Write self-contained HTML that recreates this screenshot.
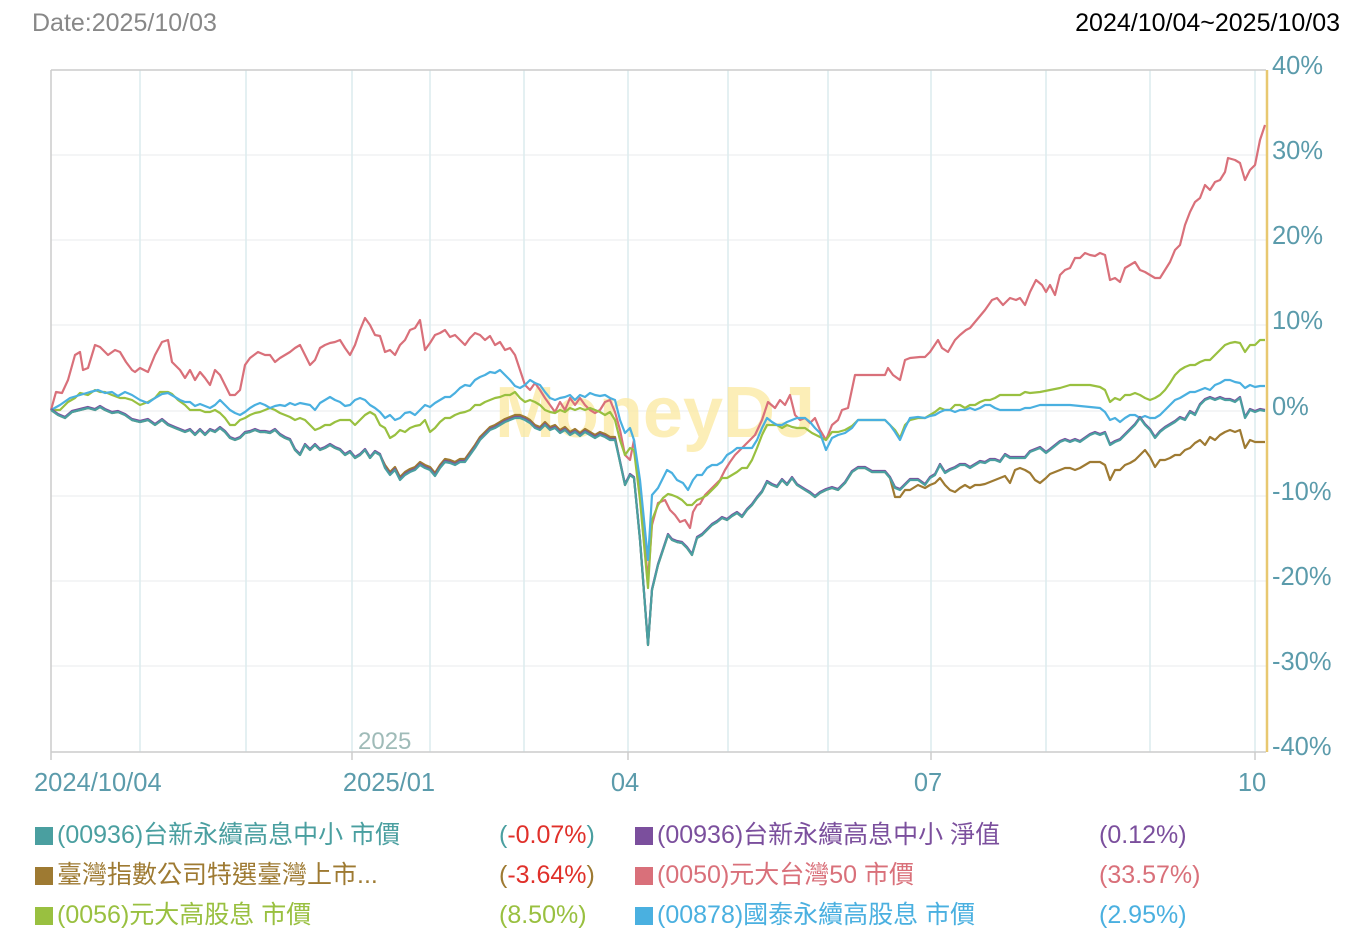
<!DOCTYPE html><html><head><meta charset="utf-8"><style>
body{margin:0;background:#fff;width:1362px;height:948px;overflow:hidden;font-family:"Liberation Sans","Noto Sans CJK TC",sans-serif}
.t{position:absolute;white-space:nowrap;line-height:30px}
.lg{position:absolute;font-size:25px;line-height:30px;height:30px;white-space:nowrap}
.sq{display:inline-block;width:18px;height:18px;margin-right:4px;vertical-align:-2px}
</style></head><body>
<div class="t" style="left:32px;top:8px;font-size:25px;color:#888">Date:2025/10/03</div>
<div class="t" style="right:22px;top:8px;font-size:25px;color:#000">2024/10/04~2025/10/03</div>
<svg width="1362" height="948" style="position:absolute;left:0;top:0">
<g stroke="#f0f2f4" stroke-width="1.5">
<line x1="51" x2="1266" y1="155" y2="155"/><line x1="51" x2="1266" y1="240" y2="240"/><line x1="51" x2="1266" y1="325" y2="325"/><line x1="51" x2="1266" y1="411" y2="411"/><line x1="51" x2="1266" y1="496" y2="496"/><line x1="51" x2="1266" y1="581" y2="581"/><line x1="51" x2="1266" y1="666" y2="666"/>
</g>
<g stroke="#dcebee" stroke-width="1.5">
<line x1="140" x2="140" y1="70" y2="752"/><line x1="246" x2="246" y1="70" y2="752"/><line x1="352" x2="352" y1="70" y2="752"/><line x1="430" x2="430" y1="70" y2="752"/><line x1="524" x2="524" y1="70" y2="752"/><line x1="628" x2="628" y1="70" y2="752"/><line x1="728" x2="728" y1="70" y2="752"/><line x1="828" x2="828" y1="70" y2="752"/><line x1="931" x2="931" y1="70" y2="752"/><line x1="1046" x2="1046" y1="70" y2="752"/><line x1="1150" x2="1150" y1="70" y2="752"/><line x1="1255" x2="1255" y1="70" y2="752"/>
</g>
<line x1="51" x2="1266" y1="70" y2="70" stroke="#ccc" stroke-width="1.5"/>
<line x1="51" x2="51" y1="70" y2="760" stroke="#ccc" stroke-width="1.5"/>
<line x1="51" x2="1266" y1="752" y2="752" stroke="#ccc" stroke-width="1.5"/>
<g stroke="#ccc" stroke-width="1.5"><line x1="352" x2="352" y1="752" y2="760"/><line x1="628" x2="628" y1="752" y2="760"/><line x1="931" x2="931" y1="752" y2="760"/><line x1="1255" x2="1255" y1="752" y2="760"/></g>
<line x1="1267" x2="1267" y1="70" y2="752" stroke="#e8c870" stroke-width="2.5"/>
<text x="655" y="437" font-size="72" font-weight="bold" fill="#fbe9a0" text-anchor="middle" font-family="Liberation Sans,sans-serif" opacity="0.75">MoneyDJ</text>
<text x="358" y="749" font-size="24" fill="#9fbbb8" font-family="Liberation Sans,sans-serif">2025</text>
<g font-size="25.5" fill="#5b9bab" font-family="Liberation Sans,sans-serif">
<text x="1272" y="74">40%</text><text x="1272" y="159">30%</text><text x="1272" y="244">20%</text><text x="1272" y="329">10%</text><text x="1272" y="415">0%</text><text x="1272" y="500">-10%</text><text x="1272" y="585">-20%</text><text x="1272" y="670">-30%</text><text x="1272" y="755">-40%</text>
<text x="34" y="791">2024/10/04</text><text x="389" y="791" text-anchor="middle">2025/01</text><text x="625" y="791" text-anchor="middle">04</text><text x="928" y="791" text-anchor="middle">07</text><text x="1252" y="791" text-anchor="middle">10</text>
</g>
<g id="series" fill="none" stroke-width="2.2" stroke-linejoin="round"></g>
</svg>
<div class="lg" style="left:35px;top:820px;color:#4a9fa0"><span class="sq" style="background:#4a9fa0"></span>(00936)台新永續高息中小 市價</div>
<div class="lg" style="left:499px;top:820px;color:#4a9fa0">(<span style="color:#e0302a">-0.07%</span>)</div>
<div class="lg" style="left:635px;top:820px;color:#7b4f9d"><span class="sq" style="background:#7b4f9d"></span>(00936)台新永續高息中小 淨值</div>
<div class="lg" style="left:1099px;top:820px;color:#7b4f9d">(0.12%)</div>
<div class="lg" style="left:35px;top:860px;color:#9e7a32"><span class="sq" style="background:#9e7a32"></span>臺灣指數公司特選臺灣上市...</div>
<div class="lg" style="left:499px;top:860px;color:#9e7a32">(<span style="color:#e0302a">-3.64%</span>)</div>
<div class="lg" style="left:635px;top:860px;color:#d9707a"><span class="sq" style="background:#d9707a"></span>(0050)元大台灣50 市價</div>
<div class="lg" style="left:1099px;top:860px;color:#d9707a">(33.57%)</div>
<div class="lg" style="left:35px;top:900px;color:#99c040"><span class="sq" style="background:#99c040"></span>(0056)元大高股息 市價</div>
<div class="lg" style="left:499px;top:900px;color:#99c040">(8.50%)</div>
<div class="lg" style="left:635px;top:900px;color:#4ab0e0"><span class="sq" style="background:#4ab0e0"></span>(00878)國泰永續高股息 市價</div>
<div class="lg" style="left:1099px;top:900px;color:#4ab0e0">(2.95%)</div>
<script>
const red=[51,410,56,392,62,393,68,380,75,355,80,352,83,370,88,368,95,345,100,347,108,355,115,350,120,352,126,362,132,370,135,372,140,368,148,372,155,355,162,342,168,340,172,362,180,370,185,378,190,370,195,380,200,372,205,378,210,385,215,370,220,375,225,385,230,395,235,395,240,390,245,365,250,358,258,352,265,355,270,355,275,362,280,358,285,355,290,352,295,348,300,345,305,355,310,365,315,360,320,348,325,345,330,343,335,342,340,340,345,348,350,355,355,345,360,330,365,318,370,325,375,335,380,336,385,352,390,350,395,355,400,345,405,340,410,330,415,328,420,320,425,350,430,343,435,335,440,333,445,330,450,337,455,335,460,340,465,345,470,338,475,333,480,335,485,340,490,336,495,345,500,342,505,350,510,348,515,355,520,370,525,385,530,390,535,383,540,390,545,398,550,405,555,412,560,402,565,410,570,398,575,405,580,398,585,405,590,410,595,413,600,410,605,402,610,400,615,412,620,430,625,455,630,460,634,440,640,495,648,580,652,525,658,503,665,500,670,510,675,515,680,522,685,520,690,528,693,512,697,505,700,504,705,495,710,490,715,485,720,480,725,470,730,462,735,455,740,450,745,445,750,440,755,435,762,420,768,402,775,408,780,400,785,405,790,395,795,415,800,420,805,418,810,423,815,418,820,430,826,440,832,425,838,420,842,410,848,408,855,375,865,375,875,375,885,375,888,368,893,375,900,380,905,360,910,358,920,357,925,357,930,352,938,340,942,348,948,352,955,340,960,335,966,330,970,328,975,322,985,310,992,300,997,298,1003,305,1010,298,1016,300,1020,298,1025,305,1030,292,1036,280,1042,285,1046,292,1050,285,1055,295,1060,275,1065,270,1070,268,1075,258,1080,258,1085,253,1090,255,1095,256,1100,253,1105,255,1110,280,1115,278,1120,282,1125,268,1130,265,1135,262,1140,270,1145,272,1150,275,1155,278,1160,278,1165,270,1170,262,1175,250,1180,245,1185,225,1190,212,1195,202,1200,198,1205,185,1210,190,1215,182,1220,180,1225,172,1228,158,1235,160,1240,163,1245,180,1250,170,1255,165,1260,140,1265,125];
const blue=[51,410,60,405,70,398,80,395,90,392,98,390,105,393,112,392,118,396,125,392,132,395,140,400,148,403,155,398,162,394,168,393,175,397,180,400,185,402,190,402,195,406,200,404,205,406,210,408,215,405,220,400,225,405,230,410,235,413,240,415,245,412,250,408,255,405,260,403,265,405,270,408,275,406,280,405,285,406,290,403,295,405,300,403,310,405,315,410,320,403,325,400,330,397,335,400,340,402,345,406,350,405,355,400,360,398,365,400,370,405,375,408,380,412,385,418,390,415,395,420,400,418,405,413,410,412,415,415,420,410,425,405,430,407,435,403,440,400,445,397,450,397,455,393,460,388,465,385,470,386,475,380,480,377,485,375,490,372,495,373,500,370,505,375,510,380,515,386,520,388,525,385,530,380,535,383,540,385,545,392,550,398,555,400,560,398,565,397,570,395,575,400,580,395,585,397,590,393,595,395,600,396,605,395,610,398,615,400,620,420,625,433,630,428,634,440,640,480,648,560,652,495,658,488,662,480,667,470,672,473,677,480,683,483,688,490,693,480,697,475,702,475,707,468,712,465,717,465,722,462,727,455,732,452,737,448,742,448,747,448,752,448,757,440,762,428,767,418,772,422,777,425,782,425,787,422,792,420,797,418,805,418,810,422,815,428,820,433,826,450,832,438,838,435,845,433,852,428,858,420,865,420,872,420,880,420,885,420,890,425,895,432,900,440,905,428,910,418,918,417,925,418,930,416,935,415,940,412,945,410,950,410,955,412,960,410,965,410,970,408,975,410,980,408,985,405,990,405,995,408,1000,410,1010,410,1020,410,1025,408,1030,408,1040,405,1050,405,1060,405,1070,405,1080,406,1090,407,1100,408,1105,412,1110,420,1115,418,1120,422,1125,418,1130,415,1135,415,1140,418,1145,416,1150,418,1155,418,1160,415,1165,410,1170,405,1175,400,1180,398,1185,395,1190,392,1195,392,1200,390,1205,388,1210,390,1215,385,1220,383,1225,380,1230,380,1235,382,1240,383,1245,388,1250,385,1255,387,1260,386,1265,386];
const green=[51,410,60,410,68,402,75,398,80,393,88,395,95,390,100,392,105,392,112,395,120,398,125,398,132,400,140,405,148,402,155,398,160,392,168,392,172,394,178,400,185,405,190,410,195,410,200,410,205,412,210,412,215,410,220,413,225,418,230,425,235,425,240,420,245,418,250,415,255,413,260,412,265,410,270,408,275,410,280,413,285,415,290,417,295,420,300,418,305,420,310,425,315,430,320,428,325,425,330,425,335,422,340,420,345,420,350,420,355,425,360,420,365,415,370,412,375,415,380,425,385,428,390,438,395,435,400,430,405,432,410,428,415,426,420,425,425,420,430,432,435,428,440,422,445,418,450,418,455,415,460,413,465,412,470,410,475,405,480,405,485,402,490,400,495,398,500,397,505,395,510,395,515,392,520,398,525,402,530,400,535,402,540,405,545,410,550,412,555,413,560,410,565,412,570,408,575,410,580,408,585,410,590,408,595,410,600,412,605,415,610,412,615,420,620,440,625,455,630,448,634,450,640,500,648,588,652,520,658,505,663,498,668,494,672,495,677,497,682,500,687,505,692,505,697,500,702,498,707,495,712,490,717,485,722,478,727,478,732,475,737,472,742,468,747,468,752,460,757,448,762,435,767,425,772,425,777,425,782,428,787,425,792,427,797,428,805,428,812,433,820,437,826,440,832,432,838,432,845,430,852,426,858,420,865,420,872,420,880,420,885,420,890,425,895,430,900,438,905,425,910,420,918,418,925,418,930,415,935,412,940,408,945,410,950,410,955,405,960,405,965,408,970,405,975,405,980,402,985,400,990,400,995,398,1000,395,1010,395,1020,395,1025,392,1030,393,1040,392,1050,390,1060,388,1070,385,1080,385,1090,385,1100,387,1105,390,1110,402,1115,398,1120,400,1125,395,1130,395,1135,393,1140,395,1145,398,1150,400,1155,398,1160,395,1165,390,1170,383,1175,375,1180,370,1185,367,1190,365,1195,365,1200,362,1205,360,1210,360,1215,355,1220,350,1225,345,1230,343,1235,342,1240,343,1245,352,1250,345,1255,345,1260,340,1265,340];
const teal=[51,410,58,415,65,418,72,412,80,410,88,408,95,410,100,407,105,410,112,413,118,412,125,415,132,420,140,422,148,420,155,425,162,420,168,425,175,428,180,430,185,432,190,430,195,435,200,430,205,435,210,430,215,432,220,428,225,432,230,438,235,440,240,438,245,433,250,432,255,430,260,432,265,432,270,433,275,430,280,435,285,438,290,440,295,450,300,455,305,445,310,450,315,445,320,450,325,448,330,445,335,448,340,450,345,455,350,452,355,458,360,455,365,450,370,458,375,452,380,455,385,468,390,475,395,470,400,480,405,475,410,472,415,470,420,465,425,468,430,470,435,476,440,468,445,462,450,463,455,465,460,462,465,462,470,455,475,448,480,440,485,435,490,430,495,428,500,425,505,422,510,420,515,418,520,418,525,420,530,423,535,428,540,430,545,425,550,430,555,428,560,433,565,430,570,435,575,432,580,436,585,432,590,435,595,438,600,435,605,437,610,440,615,440,620,462,625,485,630,475,634,478,640,540,648,645,652,590,658,565,663,550,668,535,672,540,677,542,682,543,687,548,692,555,697,538,702,535,707,530,712,525,717,522,722,518,727,520,732,516,737,513,742,517,747,510,752,505,757,498,762,492,767,482,772,485,777,487,782,480,787,485,792,478,797,485,805,490,810,493,815,497,820,493,826,490,832,488,838,490,845,483,852,472,858,468,865,468,872,472,880,472,885,472,890,478,895,488,900,490,905,485,910,480,918,480,925,485,930,478,935,475,940,465,945,473,950,470,955,468,960,465,965,465,970,468,975,465,980,462,985,463,990,460,995,460,1000,462,1005,455,1010,458,1020,458,1025,458,1030,452,1040,448,1046,453,1050,450,1060,442,1065,440,1070,442,1075,440,1080,442,1090,435,1095,433,1100,435,1105,433,1110,445,1115,442,1120,440,1125,435,1130,430,1135,425,1140,418,1145,425,1150,430,1155,438,1160,432,1165,428,1170,425,1175,422,1180,418,1185,420,1190,412,1195,415,1200,405,1205,400,1210,398,1215,400,1220,398,1225,400,1230,400,1235,402,1240,398,1245,418,1250,410,1255,412,1260,410,1265,411];
const btail=[895,497,900,497,905,490,910,490,918,485,925,488,930,485,935,483,940,478,945,485,950,490,955,492,960,488,965,485,970,488,975,485,980,485,985,484,990,482,995,480,1000,478,1005,476,1010,483,1015,470,1020,468,1025,470,1030,473,1035,480,1040,483,1046,478,1050,474,1055,472,1060,470,1065,468,1070,468,1075,470,1080,468,1085,465,1090,462,1095,462,1100,462,1105,465,1110,480,1115,470,1120,470,1125,465,1130,463,1135,460,1140,455,1145,450,1150,457,1155,467,1160,460,1165,460,1170,458,1175,455,1180,455,1185,450,1190,448,1195,443,1200,440,1205,445,1210,437,1215,440,1220,435,1225,432,1230,430,1235,432,1240,430,1245,448,1250,440,1255,442,1260,442,1265,442];
const brown=[];for(let i=0;i<teal.length;i+=2){const x=teal[i];if(x>890)break;let y=teal[i+1];if(x>380&&x<620)y-=3;brown.push(x,y);}brown.push(...btail);
const purple=teal.map((v,i)=>i%2?v-1:v);
const g=document.getElementById('series');
function add(a,c){const p=document.createElementNS('http://www.w3.org/2000/svg','polyline');let s='';for(let i=0;i<a.length;i+=2)s+=a[i]+','+a[i+1]+' ';p.setAttribute('points',s);p.setAttribute('stroke',c);g.appendChild(p);}
add(red,'#d9707a');add(green,'#99c040');add(blue,'#4ab0e0');add(brown,'#9e7a32');add(purple,'#7b4f9d');add(teal,'#4a9fa0');
</script>
</body></html>
